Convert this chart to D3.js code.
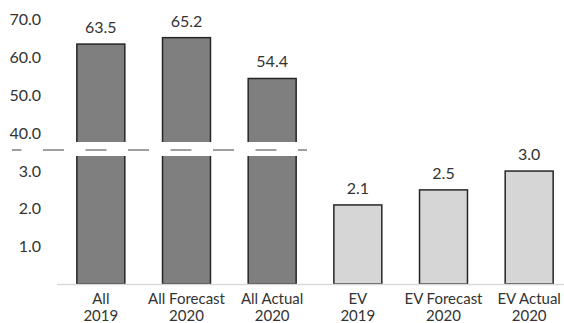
<!DOCTYPE html>
<html>
<head>
<meta charset="utf-8">
<script src="https://cdn.jsdelivr.net/npm/d3@7"></script>
<style>
  html, body { margin: 0; padding: 0; background: #fff; }
  svg { display: block; font-family: Lato, "Open Sans", sans-serif; }
</style>
</head>
<body>
<svg id="chart" width="564" height="323"></svg>
<script>
// Vehicle counts: all vehicles vs. electric vehicles
const categories = [["All", "2019"], ["All Forecast", "2020"], ["All Actual", "2020"],
                    ["EV", "2019"], ["EV Forecast", "2020"], ["EV Actual", "2020"]];
const values = [63.5, 65.2, 54.4, 2.1, 2.5, 3.0];
const groups = ["all", "all", "all", "ev", "ev", "ev"];
const upperTicks = [40, 50, 60, 70];
const lowerTicks = [1, 2, 3];

const svg = d3.select("#chart");
const W = 564;
const textColor = "#333";

const x = d3.scaleBand()
  .domain(d3.range(values.length))
  .range([58, 572])
  .paddingInner(0.44)
  .paddingOuter(0.22);

// Broken value axis: an upper panel for the large totals, a lower one for small values
const upperTop = 10, upperBottom = 142;
const lowerTop = 156, lowerBottom = 284;
const yUp = d3.scaleLinear().domain([37.6, 70]).range([upperBottom, 19.5]);
const yLo = d3.scaleLinear().domain([0, 3.4]).range([lowerBottom, lowerTop]);

const defs = svg.append("defs");
defs.append("clipPath").attr("id", "clipUp")
  .append("rect").attr("x", 0).attr("y", 0).attr("width", W).attr("height", upperBottom);
defs.append("clipPath").attr("id", "clipLo")
  .append("rect").attr("x", 0).attr("y", lowerTop).attr("width", W).attr("height", lowerBottom - lowerTop + 1);

const fill = g => g === "all" ? "#7f7f7f" : "#d6d6d6";
const data = values.map((v, i) => ({ i, v, g: groups[i], cat: categories[i] }));

// Upper panel bars (only those that reach it)
svg.append("g").attr("clip-path", "url(#clipUp)")
  .selectAll("rect").data(data.filter(d => d.v > yUp.domain()[0]))
  .join("rect")
  .attr("x", d => x(d.i))
  .attr("width", x.bandwidth())
  .attr("y", d => yUp(d.v))
  .attr("height", d => upperBottom + 10 - yUp(d.v))
  .attr("fill", d => fill(d.g))
  .attr("stroke", "#262626")
  .attr("stroke-width", 1.5);

// Lower panel bars
svg.append("g").attr("clip-path", "url(#clipLo)")
  .selectAll("rect").data(data)
  .join("rect")
  .attr("x", d => x(d.i))
  .attr("width", x.bandwidth())
  .attr("y", d => d.v > yLo.domain()[1] ? lowerTop - 10 : yLo(d.v))
  .attr("height", d => lowerBottom - (d.v > yLo.domain()[1] ? lowerTop - 10 : yLo(d.v)))
  .attr("fill", d => fill(d.g))
  .attr("stroke", "#262626")
  .attr("stroke-width", 1.5);

// Baseline
svg.append("line")
  .attr("x1", 57).attr("x2", W)
  .attr("y1", lowerBottom + 0.5).attr("y2", lowerBottom + 0.5)
  .attr("stroke", "#d9d9d9").attr("stroke-width", 1.5);

// Axis break marker
svg.append("line")
  .attr("x1", 12).attr("x2", 307)
  .attr("y1", 150).attr("y2", 150)
  .attr("stroke", "#808080").attr("stroke-width", 1.5)
  .attr("stroke-dasharray", "21,21.5")
  .attr("stroke-dashoffset", 11.5);

// Tick labels for both panels
const fmt = d3.format(".1f");
function styleAxis(g) {
  g.select(".domain").remove();
  g.selectAll(".tick line").remove();
  g.selectAll(".tick text")
    .attr("fill", textColor)
    .style("font-size", "16px")
    .style("font-family", "Lato, 'Open Sans', sans-serif");
}
svg.append("g").attr("transform", "translate(41,0)")
  .call(d3.axisLeft(yUp).tickValues(upperTicks).tickFormat(fmt).tickSize(0).tickPadding(0))
  .call(styleAxis);
svg.append("g").attr("transform", "translate(41,0)")
  .call(d3.axisLeft(yLo).tickValues(lowerTicks).tickFormat(fmt).tickSize(0).tickPadding(0))
  .call(styleAxis);

// Value labels
svg.append("g").selectAll("text").data(data).join("text")
  .attr("x", d => x(d.i) + x.bandwidth() / 2)
  .attr("y", d => (d.v > yLo.domain()[1] ? yUp(d.v) : yLo(d.v)) - 11)
  .attr("text-anchor", "middle")
  .attr("fill", textColor)
  .style("font-size", "16px")
  .text(d => fmt(d.v));

// Category labels (two lines)
const cat = svg.append("g").selectAll("text").data(data).join("text")
  .attr("text-anchor", "middle")
  .attr("fill", textColor)
  .style("font-size", "15px");
cat.append("tspan")
  .attr("x", d => x(d.i) + x.bandwidth() / 2).attr("y", 304)
  .text(d => d.cat[0]);
cat.append("tspan")
  .attr("x", d => x(d.i) + x.bandwidth() / 2).attr("y", 321)
  .text(d => d.cat[1]);
</script>
</body>
</html>
